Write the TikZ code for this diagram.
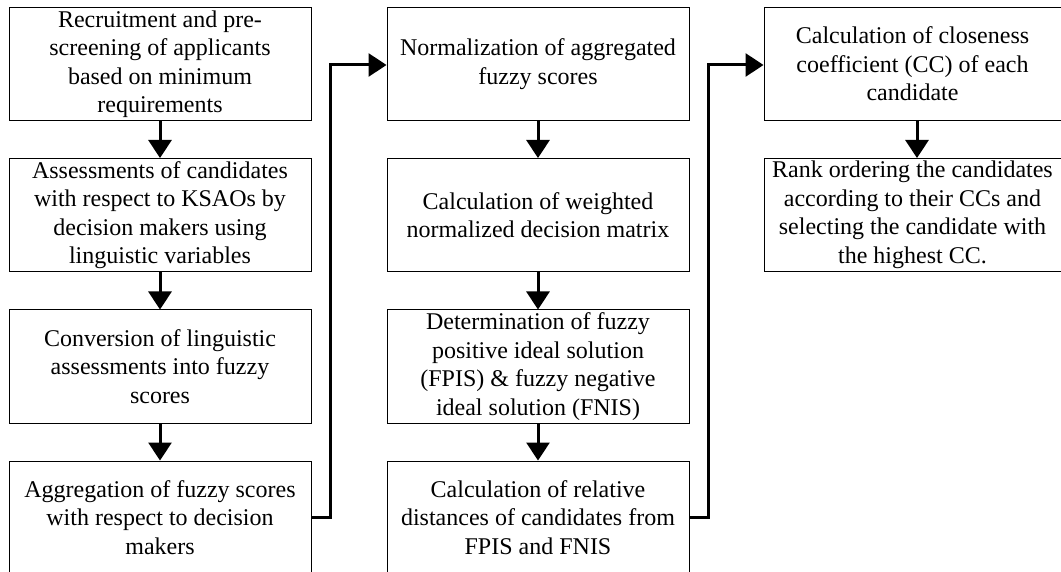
\documentclass[tikz,border=0pt]{standalone}
\usepackage{fontspec}
\setmainfont{Liberation Serif}
\usetikzlibrary{arrows.meta}
\begin{document}
\begin{tikzpicture}[x=1pt,y=-1pt,
  stepbox/.style={draw=black, line width=1pt, inner sep=0pt, align=center,
    minimum width=302pt, minimum height=113pt,
    font=\fontsize{24}{28.5}\selectfont},
  flow/.style={line width=3pt, -{Triangle[length=18pt,width=23pt]}},
  conn/.style={line width=3pt, -{Triangle[length=18pt,width=23pt]}, line join=miter}]
\useasboundingbox (0,0) rectangle (1061,572);

% column 1
\node[stepbox] (b1) at (160,64) {Recruitment and pre-\\screening of applicants\\based on minimum\\requirements};
\node[stepbox] (b2) at (160,215) {Assessments of candidates\\with respect to KSAOs by\\decision makers using\\linguistic variables};
\node[stepbox] (b3) at (160,366.5) {Conversion of linguistic\\assessments into fuzzy\\scores};
\node[stepbox] (b4) at (160,517.5) {Aggregation of fuzzy scores\\with respect to decision\\makers};

% column 2
\node[stepbox] (b5) at (538,64) {Normalization of aggregated\\fuzzy scores};
\node[stepbox] (b6) at (538,215) {Calculation of weighted\\normalized decision matrix};
\node[stepbox] (b7) at (538,366.5) {Determination of fuzzy\\positive ideal solution\\(FPIS) \& fuzzy negative\\ideal solution (FNIS)};
\node[stepbox] (b8) at (538,517.5) {Calculation of relative\\distances of candidates from\\FPIS and FNIS};

% column 3
\node[stepbox, minimum width=297pt] (b9) at (912.5,64) {Calculation of closeness\\coefficient (CC) of each\\candidate};
\node[stepbox, minimum width=297pt] (b10) at (912.5,215) {Rank ordering the candidates\\according to their CCs and\\selecting the candidate with\\the highest CC.};

% arrows within columns
\draw[flow] (b1) -- (b2);
\draw[flow] (b2) -- (b3);
\draw[flow] (b3) -- (b4);
\draw[flow] (b5) -- (b6);
\draw[flow] (b6) -- (b7);
\draw[flow] (b7) -- (b8);
\draw[flow] (b9.south -| 917,0) -- (b10.north -| 917,0);

% connectors between columns
\coordinate (k1) at (330,65);
\coordinate (k2) at (708,65);
\draw[conn] (b4.east) -| (k1) -- (k1 -| b5.west);
\draw[conn] (b8.east) -| (k2) -- (k2 -| b9.west);
\end{tikzpicture}
\end{document}
